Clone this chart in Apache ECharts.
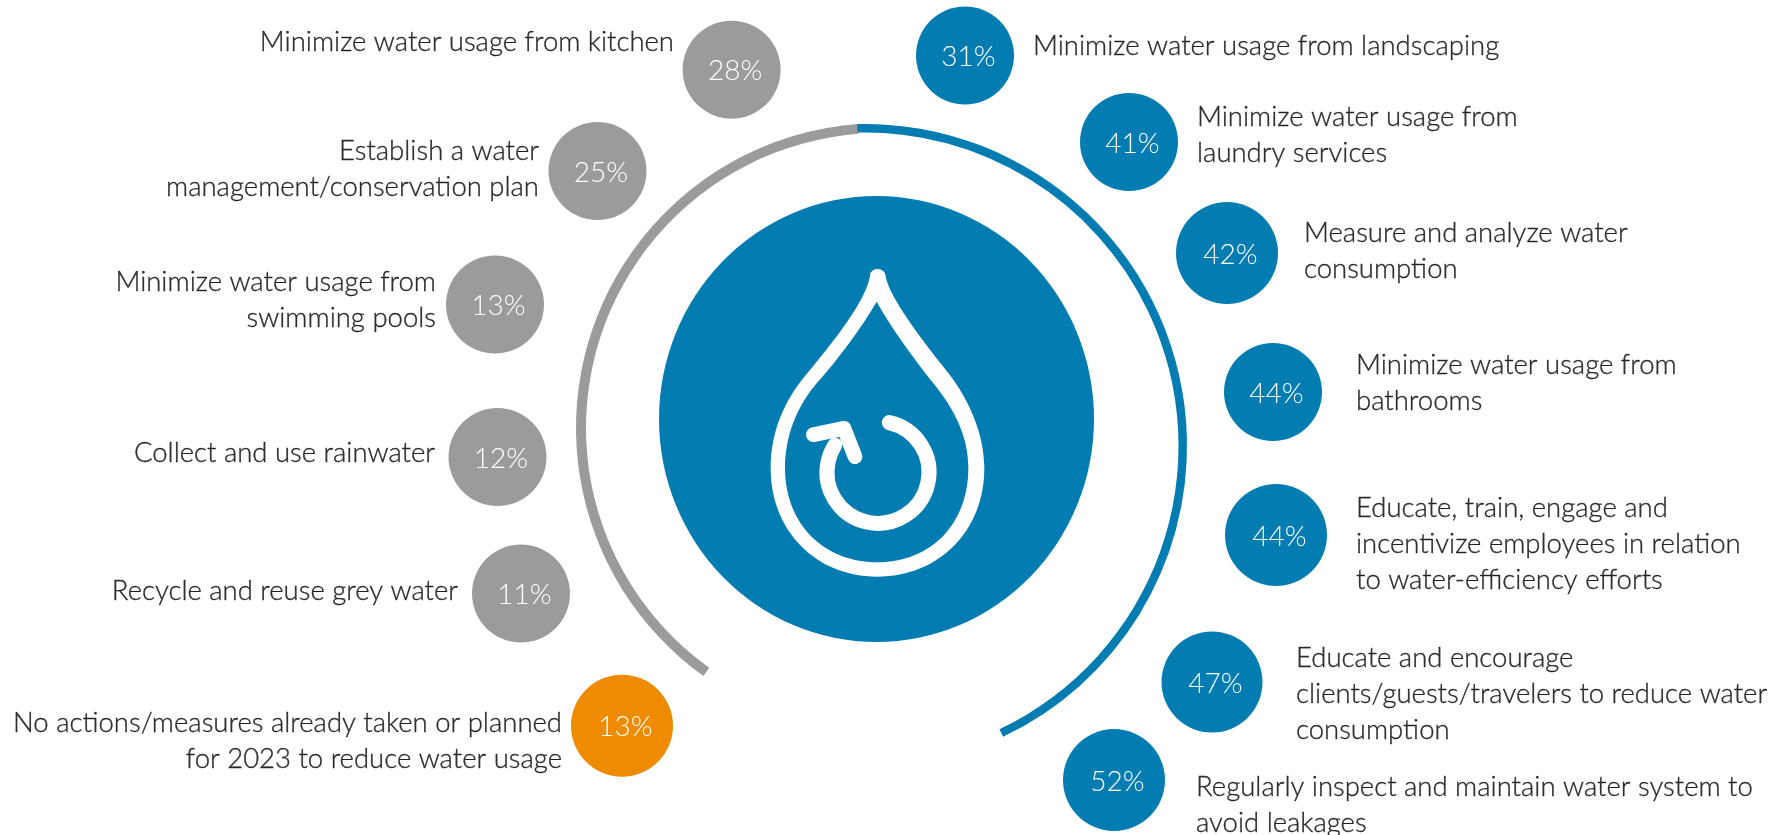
<!DOCTYPE html>
<html>
<head>
<meta charset="utf-8">
<style>html,body{margin:0;padding:0;background:#fff}#c{width:1769px;height:835px}</style>
<script src="https://cdn.jsdelivr.net/npm/echarts@6/dist/echarts.min.js"></script>
</head>
<body>
<div id="c"></div>
<script>
// --- data ---
const categories = [
  'Minimize water usage from landscaping',
  'Minimize water usage from\nlaundry services',
  'Measure and analyze water\nconsumption',
  'Minimize water usage from\nbathrooms',
  'Educate, train, engage and\nincentivize employees in relation\nto water-efficiency efforts',
  'Educate and encourage\nclients/guests/travelers to reduce water\nconsumption',
  'Regularly inspect and maintain water system to\navoid leakages',
  'Minimize water usage from kitchen',
  'Establish a water\nmanagement/conservation plan',
  'Minimize water usage from\nswimming pools',
  'Collect and use rainwater',
  'Recycle and reuse grey water',
  'No actions/measures already taken or planned\nfor 2023 to reduce water usage'
];
const values = [31, 41, 42, 44, 44, 47, 52, 28, 25, 13, 12, 11, 13];
const groups = ['a','a','a','a','a','a','a','b','b','b','b','b','c'];

// --- layout (infographic placement, not data) ---
const bubbleCentres = [[965,55.5],[1129,142],[1227,253],[1273,392],[1276,535],[1212,682],[1114,780],
                       [731.6,69.7],[597.5,171],[495,304.5],[497.5,457],[521,593.5],[622,725.7]];
const bubbleSizes = [98,98,102,98,102,101,102,98,98,98,98,98,102];
const textAnchors = [[1033,46],[1197,135.5],[1304,251],[1356,383],[1356,544.5],[1296,694.5],[1196,805.5],
                     [674,42],[539,169],[436,300],[435,453],[458,591.5],[562,741.5]];
const textSides = groups.map(g => g === 'a' ? 'left' : 'right');
const colours = {a:'#037CB2', b:'#9A9B9D', c:'#EE8B00'};
const font = 'Lato';

const dropPath = 'M690 288C690 275 700 267 713 267C726 267 737 276 737 290C745 330 790 410 910 560C985 650 1033 760 1033 865C1033 1050 900 1190 712 1190C525 1190 392 1050 392 865C392 760 430 660 510 570C610 450 680 350 690 288Z' +
  'M710 365C660 450 600 530 530 610C470 680 435 770 435 865C435 1030 550 1147 712 1147C875 1147 985 1030 985 865C985 770 945 690 880 610C810 520 755 445 710 365Z';

const chart = echarts.init(document.getElementById('c'), null, {renderer:'canvas'});
function arc(center, radius, start, span, colour) {
  return {type:'pie', silent:true, animation:false, center, radius, startAngle:start, clockwise:true,
    label:{show:false}, labelLine:{show:false}, z:1,
    emphasis:{disabled:true},
    data:[{value:span, itemStyle:{color:colour}}, {value:360-span, itemStyle:{color:'rgba(0,0,0,0)'}}]};
}
chart.setOption({
  animation:false,
  backgroundColor:'#fff',
  grid:{left:0,right:0,top:0,bottom:0},
  xAxis:{type:'value',min:0,max:1769,show:false},
  yAxis:{type:'value',min:0,max:835,inverse:true,show:false},
  tooltip:{show:false},
  series:[
    arc([881,428],[295,305],234.4,140,colours.b),
    arc([865,446],[313.5,322],91.4,156,colours.a),
    {type:'scatter',silent:true,z:2,symbol:'circle',symbolSize:[435,446],
     itemStyle:{color:colours.a,opacity:1},data:[[876.5,419]]},
    {type:'scatter',silent:true,z:2.5,symbol:'path://'+dropPath,symbolSize:[213.67,307.67],symbolKeepAspect:false,
     itemStyle:{color:'#fff',opacity:1},data:[[877.5,422.83]]},
    {type:'scatter',silent:true,z:3,symbol:'circle',
     data:values.map((v,i)=>({value:[bubbleCentres[i][0],bubbleCentres[i][1],v],
       symbolSize:bubbleSizes[i],itemStyle:{color:colours[groups[i]],opacity:1}})),
     label:{show:true,position:'inside',offset:[3.5,1.5],color:'#fff',fontFamily:font,fontWeight:300,fontSize:28,
       formatter:p=>p.value[2]+'%'}},
    {type:'scatter',silent:true,z:3,symbolSize:0,
     data:categories.map((c,i)=>({value:textAnchors[i],name:c,
       label:{position:[0,0],align:textSides[i],verticalAlign:'middle'}})),
     label:{show:true,color:'#000',fontFamily:font,fontWeight:300,fontSize:27.5,lineHeight:36,
       textBorderColor:'#000',textBorderWidth:0.35,
       formatter:p=>p.name}}
  ],
  graphic:{elements:[
    {type:'arc',z:100,silent:true,
     shape:{cx:878,cy:472.3,r:51,startAngle:-77.2*Math.PI/180,endAngle:212.2*Math.PI/180,clockwise:true},
     style:{fill:null,stroke:'#fff',lineWidth:15,lineCap:'round'}},
    {type:'polyline',z:100,silent:true,
     shape:{points:[[813.3,434.7],[844,428.3],[855,456.7]]},
     style:{fill:null,stroke:'#fff',lineWidth:14.7,lineCap:'round',lineJoin:'round'}}
  ]}
});
</script>
</body>
</html>
